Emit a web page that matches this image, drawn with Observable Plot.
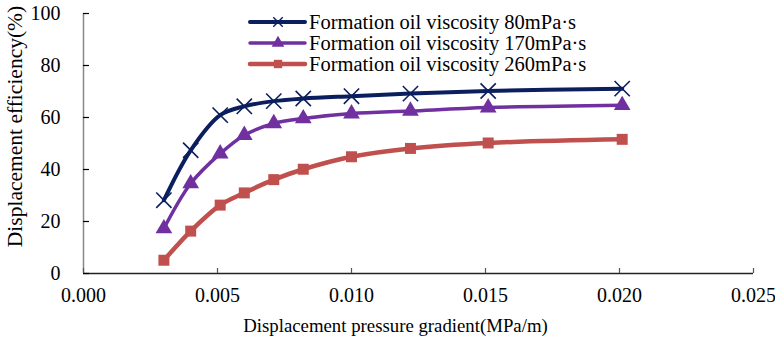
<!DOCTYPE html>
<html><head><meta charset="utf-8">
<script src="https://cdn.jsdelivr.net/npm/d3@7"></script>
<script src="https://cdn.jsdelivr.net/npm/@observablehq/plot@0.6"></script>
<style>
body{margin:0;background:#fff}
#wrap{position:relative;width:775px;height:345px;background:#fff}
#legend{position:absolute;left:0;top:0}
</style>
</head><body><div id="wrap"></div>
<script>
const gradient = [0.0030, 0.0040, 0.0051, 0.0060, 0.0071, 0.0082, 0.0100, 0.0122, 0.0151, 0.0201];
const eff80  = [28.2, 47.4, 60.9, 64.3, 66.3, 67.3, 68.2, 69.2, 70.2, 71.1];
const eff170 = [17.3, 34.6, 46.1, 53.2, 57.7, 59.6, 61.5, 62.5, 63.8, 64.7];
const eff260 = [5.1, 16.3, 26.3, 31.0, 36.1, 40.1, 44.9, 48.1, 50.2, 51.6];
const seriesNames = ["Formation oil viscosity 80mPa·s", "Formation oil viscosity 170mPa·s", "Formation oil viscosity 260mPa·s"];
const xTicks = [0, 0.005, 0.010, 0.015, 0.020, 0.025];
const yTicks = [0, 20, 40, 60, 80, 100];
const xTitle = "Displacement pressure gradient(MPa/m)";
const yTitle = "Displacement efficiency(%)";

const colors = ["#0b1f5e", "#7030a0", "#c0504d"];
const symbols = ["times", "triangle", "square"];
const radii = [7, 6.2, 6.2];
const widths = [4, 3.5, 4.5];
const allSeries = [eff80, eff170, eff260];

const W = 775, H = 345, mL = 83, mR = 22, mT = 13, mB = 72;
const plotW = W - mL - mR, plotH = H - mT - mB;
const font = "'Liberation Serif', 'Times New Roman', serif";

const marks = [];
allSeries.forEach((vals, i) => {
  const data = gradient.map((g, j) => ({g, v: vals[j]}));
  marks.push(Plot.line(data, {x: "g", y: "v", stroke: colors[i], strokeWidth: widths[i], curve: "catmull-rom"}));
});
allSeries.forEach((vals, i) => {
  const data = gradient.map((g, j) => ({g, v: vals[j]}));
  if (symbols[i] === "times")
    marks.push(Plot.dot(data, {x: "g", y: "v", symbol: "times", r: radii[i], stroke: colors[i], strokeWidth: 1.6, fill: "none"}));
  else
    marks.push(Plot.dot(data, {x: "g", y: "v", symbol: symbols[i], r: radii[i], fill: colors[i], stroke: "none"}));
});

const chart = Plot.plot({
  width: W, height: H,
  marginLeft: mL, marginRight: mR, marginTop: mT, marginBottom: mB,
  style: {fontFamily: font, fontSize: "20px", background: "#fff", color: "#000", overflow: "visible"},
  x: {domain: [0, 0.025]},
  y: {domain: [0, 100]},
  marks: [
    ...marks,
    Plot.ruleX([0], {stroke: "#888", strokeWidth: 1.5}),
    Plot.ruleY([0], {stroke: "#222", strokeWidth: 1.3}),
    Plot.tickY(yTicks, {y: d => d, stroke: "#000", strokeWidth: 1.2, insetRight: plotW - 6}),
    Plot.tickX(xTicks, {x: d => d, stroke: "#555", strokeWidth: 1.2, insetTop: plotH - 5}),
    Plot.axisX(xTicks, {tickSize: 0, tickPadding: 14, tickFormat: d3.format(".3f"), label: null, fontSize: 20}),
    Plot.axisY(yTicks, {tickSize: 0, tickPadding: 23, label: null, fontSize: 20}),
    Plot.text([xTitle], {frameAnchor: "bottom", dx: -23, dy: 58, fontSize: 18.8, text: d => d}),
    Plot.text([yTitle], {frameAnchor: "left", textAnchor: "middle", rotate: -90, dx: -68, dy: -17, fontSize: 21.5, text: d => d})
  ]
});
const wrap = document.getElementById("wrap");
wrap.appendChild(chart);

// legend overlay
const leg = d3.select(wrap).append("svg").attr("id", "legend").attr("width", W).attr("height", 90)
  .style("font-family", font);
const legendTop = [22, 43, 64];
seriesNames.forEach((name, i) => {
  const g = leg.append("g").attr("transform", `translate(0,${legendTop[i]})`);
  g.append("line").attr("x1", 250).attr("x2", 305).attr("stroke", colors[i]).attr("stroke-width", widths[i]).attr("stroke-linecap", "round");
  const sym = {times: d3.symbolTimes, triangle: d3.symbolTriangle, square: d3.symbolSquare}[symbols[i]];
  const p = g.append("path").attr("transform", "translate(278,0)").attr("d", d3.symbol(sym, symbols[i] === "times" ? 60 : 70)());
  if (symbols[i] === "times") p.attr("fill", "none").attr("stroke", colors[i]).attr("stroke-width", 1.4);
  else p.attr("fill", colors[i]);
  g.append("text").attr("x", 309).attr("y", 0).attr("dy", "0.35em").attr("font-size", 20.5).text(name);
});
</script>
</body></html>
